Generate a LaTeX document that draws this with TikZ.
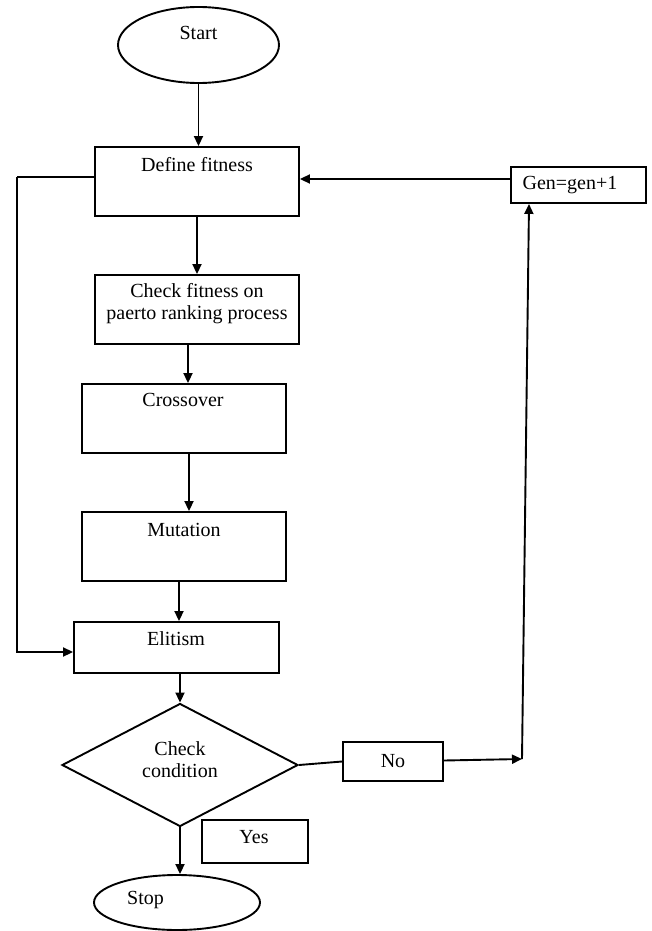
\documentclass[tikz,border=0pt]{standalone}
\usepackage{fontspec}
\setmainfont{Liberation Serif}
\usetikzlibrary{shapes.geometric,arrows.meta}
\begin{document}
\begin{tikzpicture}[x=1pt,y=-1pt,
  box/.style={draw,line width=1.9pt,rectangle,inner sep=0pt},
  oval/.style={draw,line width=1.9pt,ellipse,inner sep=0pt},
  dia/.style={draw,line width=1.9pt,diamond,inner sep=0pt},
  txt/.style={font=\fontsize{20}{22}\selectfont,align=center,inner sep=0pt},
  arr/.style={line width=1.9pt,-{Triangle[length=10pt,width=9pt]}},
  ln/.style={line width=1.9pt}]
\path[use as bounding box,fill=white] (0,0) rectangle (651,931);

\node[oval,minimum width=161pt,minimum height=76pt] (start) at (198.5,45) {};
\node[txt] (tstart) at (198.5,33) {Start};

\node[box,minimum width=204pt,minimum height=69pt] (def) at (197,181.5) {};
\node[txt] (tdef) at (197,165) {Define fitness};

\node[box,minimum width=135pt,minimum height=36pt] (gen) at (578.5,185) {};
\node[txt] (tgen) at (570,185) {Gen=gen+1};

\node[box,minimum width=204pt,minimum height=69pt] (check) at (197,309.5) {};
\node[txt] (tcheck) at (197,304) {Check fitness on\\paerto ranking process};

\node[box,minimum width=204pt,minimum height=69pt] (cross) at (184,418.5) {};
\node[txt] (tcross) at (183,400) {Crossover};

\node[box,minimum width=204pt,minimum height=69pt] (mut) at (184,546.5) {};
\node[txt] (tmut) at (184,530) {Mutation};

\node[box,minimum width=205pt,minimum height=51pt] (elit) at (176.5,647.5) {};
\node[txt] (telit) at (176,639) {Elitism};

\node[dia,minimum width=236pt,minimum height=123pt] (cond) at (180,765) {};
\node[txt] (tcond) at (180,759.5) {Check\\condition};

\node[box,minimum width=100pt,minimum height=39pt] (no) at (393,761.5) {};
\node[txt] (tno) at (393,761) {No};

\node[box,minimum width=106pt,minimum height=43pt] (yes) at (255,841.5) {};
\node[txt] (tyes) at (254,837) {Yes};

\node[oval,minimum width=166pt,minimum height=55pt] (stop) at (177,902.5) {};
\node[txt] (tstop) at (145.5,900) {Stop};

\coordinate (corner) at (522,759);
\coordinate (genin) at ([xshift=-49.5pt]gen.south);
\coordinate (lefttop) at (17,177);
\coordinate (leftbot) at (17,652);

% connectors
\draw[arr] (start.south) -- (start.south |- def.north);
\draw[arr] (def.south) -- (def.south |- check.north);
\draw[arr] ([xshift=-9pt]check.south) -- ([xshift=-9pt]check.south |- cross.north);
\draw[arr] ([xshift=5pt]cross.south) -- ([xshift=5pt]cross.south |- mut.north);
\draw[arr] ([xshift=-5pt]mut.south) -- ([xshift=-5pt]mut.south |- elit.north);
\draw[arr] (elit.south -| cond.north) -- (cond.north);
\draw[arr] (cond.south) -- (cond.south |- stop.north);
\draw[ln] (def.west |- lefttop) -- (lefttop);
\draw[arr] (lefttop) -- (leftbot) -- (leftbot -| elit.west);
\draw[arr] ([yshift=6pt]gen.west) -- ([yshift=6pt]gen.west -| def.east);
\draw[ln] (cond.east) -- (no.west);
\draw[arr] ([yshift=1pt]no.east) -- (corner);
\draw[arr] (corner) -- (genin);
\end{tikzpicture}
\end{document}
